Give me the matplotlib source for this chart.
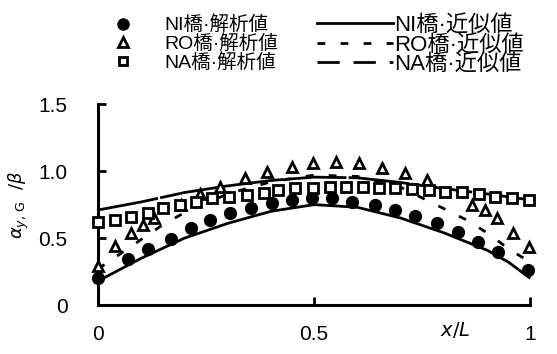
import matplotlib
matplotlib.use("Agg")
import matplotlib.pyplot as plt
from matplotlib.lines import Line2D

plt.rcParams['font.family'] = ['Liberation Sans', 'Noto Sans CJK JP', 'DejaVu Sans']

# --- data ---
x_ni = [0.0, 0.069, 0.116, 0.169, 0.215, 0.259, 0.306, 0.354, 0.403, 0.449, 0.495,
        0.542, 0.588, 0.641, 0.688, 0.734, 0.785, 0.833, 0.880, 0.926, 0.995]
y_ni = [0.20, 0.343, 0.416, 0.493, 0.572, 0.634, 0.684, 0.726, 0.759, 0.784, 0.796,
        0.796, 0.771, 0.746, 0.709, 0.664, 0.610, 0.547, 0.472, 0.398, 0.265]

x_ro = [0.0, 0.039, 0.076, 0.103, 0.130, 0.191, 0.235, 0.282, 0.340, 0.390, 0.448,
        0.498, 0.551, 0.603, 0.657, 0.711, 0.762, 0.865, 0.896, 0.923, 0.959, 0.996]
y_ro = [0.29, 0.44, 0.535, 0.597, 0.647, 0.746, 0.828, 0.883, 0.945, 0.995, 1.03,
        1.057, 1.07, 1.057, 1.02, 0.983, 0.933, 0.746, 0.709, 0.652, 0.54, 0.435]

x_na = [0.0, 0.039, 0.076, 0.115, 0.151, 0.190, 0.227, 0.263, 0.302, 0.344, 0.383,
        0.417, 0.456, 0.498, 0.537, 0.574, 0.613, 0.650, 0.688, 0.726, 0.766, 0.803,
        0.842, 0.882, 0.919, 0.958, 0.996]
y_na = [0.62, 0.634, 0.654, 0.684, 0.721, 0.746, 0.771, 0.796, 0.808, 0.821, 0.838,
        0.858, 0.871, 0.875, 0.883, 0.883, 0.883, 0.875, 0.875, 0.866, 0.858, 0.846,
        0.846, 0.828, 0.808, 0.796, 0.784]

xa_ni = [0.0, 0.1, 0.2, 0.3, 0.4, 0.5, 0.6, 0.7, 0.8, 0.9, 0.95, 1.0]
ya_ni = [0.18, 0.35, 0.50, 0.61, 0.70, 0.75, 0.73, 0.65, 0.54, 0.41, 0.32, 0.20]

xa_ro = [0.0, 0.05, 0.1, 0.15, 0.2, 0.3, 0.4, 0.5, 0.6, 0.7, 0.75, 0.8, 0.85, 0.9, 0.95, 1.0]
ya_ro = [0.27, 0.38, 0.49, 0.60, 0.69, 0.83, 0.92, 0.97, 0.96, 0.88, 0.80, 0.72, 0.64, 0.54, 0.42, 0.32]

xa_na = [0.0, 0.1, 0.2, 0.3, 0.4, 0.5, 0.6, 0.7, 0.8, 0.9, 1.0]
ya_na = [0.71, 0.77, 0.84, 0.89, 0.93, 0.955, 0.95, 0.915, 0.87, 0.83, 0.785]

xticks = [0, 0.5, 1]
xticklabels = ['0', '0.5', '1']
yticks = [0, 0.5, 1.0, 1.5]
yticklabels = ['0', '0.5', '1.0', '1.5']

labels_pts = ['NI橋·解析値', 'RO橋·解析値', 'NA橋·解析値']
labels_lines = ['NI橋·近似値', 'RO橋·近似値', 'NA橋·近似値']

# --- figure ---
fig = plt.figure(figsize=(5.57, 3.54), dpi=100)
ax = fig.add_axes([0.176, 0.138, 0.776, 0.568])

lw = 2.0
ro_dash = (2.8, 5.5)
ax.plot(xa_ni, ya_ni, color='black', lw=lw, solid_capstyle='butt', clip_on=False)
ax.plot(xa_ro, ya_ro, color='black', lw=lw, dashes=ro_dash, clip_on=False)
ax.plot(xa_na, ya_na, color='black', lw=lw, dashes=(22, 0.8), clip_on=False)

ax.plot(x_ni, y_ni, 'o', ms=8.5, color='black', clip_on=False, zorder=5)
ax.plot(x_ro, y_ro, '^', ms=7, mfc='white', mec='black', mew=2.0, clip_on=False, zorder=5)
ax.plot(x_na, y_na, 's', ms=6.5, mfc='white', mec='black', mew=2.0, clip_on=False, zorder=5)

ax.set_xlim(0, 1)
ax.set_ylim(0, 1.5)
for s in ['top', 'right']:
    ax.spines[s].set_visible(False)
for s in ['left', 'bottom']:
    ax.spines[s].set_linewidth(2.2)

ax.set_xticks(xticks)
ax.set_xticklabels(xticklabels)
ax.set_yticks(yticks)
ax.set_yticklabels(yticklabels)
ax.tick_params(direction='in', length=6, width=2, labelsize=15, colors='black')
ax.tick_params(axis='y', pad=22)
ax.tick_params(axis='x', pad=14)

ax.text(0.827, -0.125, r'$x/L$', transform=ax.transAxes, fontsize=14,
        ha='center', va='center')

ax.set_ylabel(r'$\alpha_{y,\,\mathrm{G}}\ \ /\beta$', fontsize=13)
ax.yaxis.set_label_coords(-0.155, 0.5)

# legends (two columns with their own text sizes)
h_pts = [Line2D([], [], ls='none', marker='o', ms=8, color='black'),
         Line2D([], [], ls='none', marker='^', ms=6.5, mfc='white', mec='black', mew=2),
         Line2D([], [], ls='none', marker='s', ms=6, mfc='white', mec='black', mew=2)]
h_lines = [Line2D([], [], color='black', lw=lw),
           Line2D([], [], color='black', lw=lw, dashes=ro_dash),
           Line2D([], [], color='black', lw=lw, dashes=(8, 5))]
fig.legend(h_pts, labels_pts, loc='upper left', bbox_to_anchor=(0.124, 1.0),
           frameon=False, fontsize=14, handlelength=3.9, handletextpad=0.2,
           labelspacing=0.0, borderpad=0.3)
fig.legend(h_lines, labels_lines, loc='upper left', bbox_to_anchor=(0.538, 1.008),
           frameon=False, fontsize=16, handlelength=3.4, handletextpad=0.05,
           labelspacing=-0.07, borderpad=0.3)

fig.savefig('out.png', dpi=100)
